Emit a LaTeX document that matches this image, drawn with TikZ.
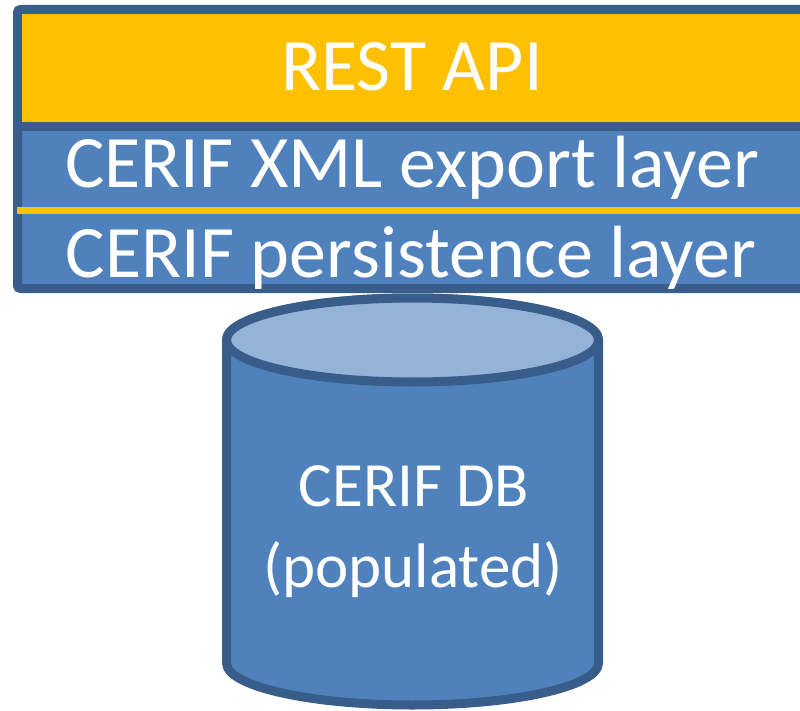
\documentclass[tikz,border=0pt]{standalone}
\usepackage{fontspec}
\setmainfont{Carlito}
\definecolor{frameblue}{HTML}{385D8A}
\definecolor{layerblue}{HTML}{4F81BD}
\definecolor{topblue}{HTML}{95B3D7}
\definecolor{apiyellow}{HTML}{FFC000}
\tikzset{
  bigtext/.style={text=white,anchor=base,inner sep=0pt,font=\fontsize{74}{80}\selectfont},
  dbtext/.style={text=white,anchor=base,inner sep=0pt,font=\fontsize{63}{70}\selectfont},
  darkline/.style={draw=frameblue,line width=9pt},
}
\begin{document}
\begin{tikzpicture}[x=1pt,y=-1pt]
\useasboundingbox (0,0) rectangle (800,711);
\begin{scope}
\clip (0,0) rectangle (800,711);
% stacked layer frame
\draw[darkline,fill=layerblue,rounded corners=3pt] (17.5,9.5) rectangle (812,288.5);
% REST API band
\fill[apiyellow] (22,14) rectangle (800,122);
% separator between API band and XML layer
\draw[darkline] (13,126.5) -- (800,126.5);
% yellow divider between the two CERIF layers
\draw[draw=apiyellow,line width=7pt] (17,210.5) -- (800,210.5);
% database cylinder
\draw[darkline,fill=layerblue] (226.5,340) -- (226.5,663)
  arc[start angle=180,end angle=0,x radius=186,y radius=42]
  -- (598.5,340)
  arc[start angle=0,end angle=-180,x radius=186,y radius=42] -- cycle;
\draw[darkline,fill=topblue] (412.5,340) ellipse[x radius=186,y radius=42];
\end{scope}
% labels
\node[bigtext] (api) at (412,91) {REST API};
\node[bigtext] (xml) at (412,188) {CERIF XML export layer};
\node[bigtext] (pers) at (411,277) {CERIF persistence layer};
\node[dbtext] (db) at (414,506) {CERIF DB};
\node[dbtext] (pop) at (413,587) {(populated)};
\end{tikzpicture}
\end{document}
